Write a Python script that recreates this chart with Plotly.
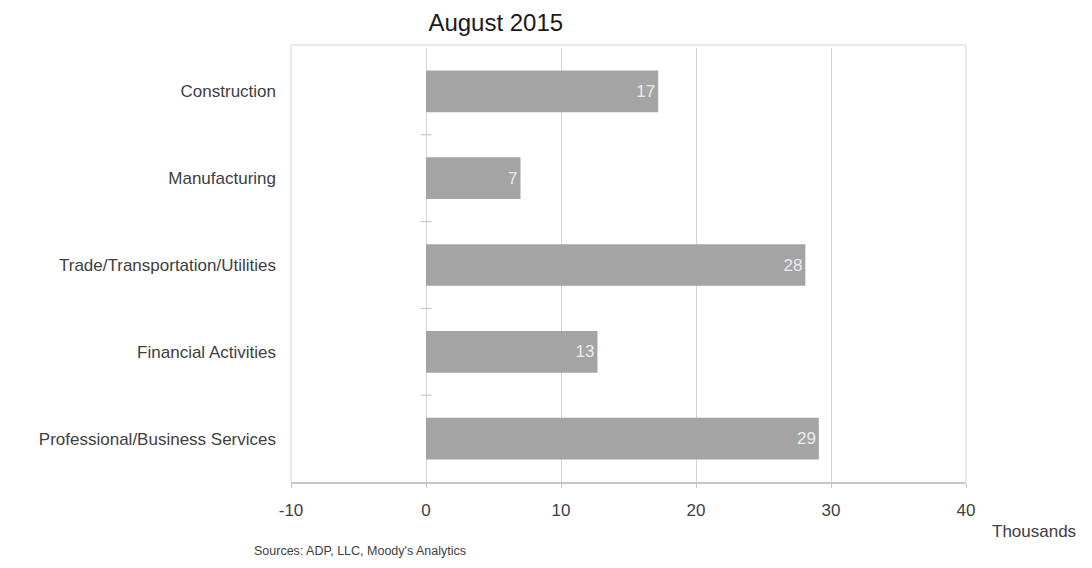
import plotly.graph_objects as go

categories = ["Construction", "Manufacturing", "Trade/Transportation/Utilities",
              "Financial Activities", "Professional/Business Services"]
values = [17.2, 7.0, 28.1, 12.7, 29.1]
labels = ["17", "7", "28", "13", "29"]
x_ticks = [-10, 0, 10, 20, 30, 40]
x_tick_text = ["-10", "0", "10", "20", "30", "40"]

font_family = "Liberation Sans, Arial, sans-serif"

fig = go.Figure()
fig.add_trace(go.Bar(
    y=categories, x=values, orientation="h",
    marker=dict(color="#a4a4a4", line=dict(width=0)),
    width=0.48,
    text=labels, textposition="inside", insidetextanchor="end",
    textfont=dict(color="#ececec", size=17, family=font_family),
    cliponaxis=False,
))

# small separator ticks at the zero line between categories
shapes = []
for i in range(len(categories) - 1):
    shapes.append(dict(type="line", xref="x", yref="y",
                       x0=-0.4, x1=0.4, y0=i + 0.5, y1=i + 0.5,
                       line=dict(color="#c0c0c0", width=1)))

fig.update_layout(
    width=1092, height=568,
    margin=dict(l=291, r=126, t=48, b=86),
    paper_bgcolor="white", plot_bgcolor="white",
    showlegend=False,
    title=dict(text="August 2015", x=0.454, xanchor="center", y=0.96, yanchor="middle",
               font=dict(size=24, color="#1a1a1a", family=font_family)),
    font=dict(family=font_family, color="#404040"),
    xaxis=dict(range=[-10, 40], tickvals=x_ticks, ticktext=x_tick_text,
               showgrid=True, gridcolor="#d4d4d4",
               gridwidth=1, zeroline=False, showline=True, linecolor="#c8c8c8", linewidth=2,
               mirror=False, ticks="outside", ticklen=4, tickcolor="#c8c8c8",
               ticklabelstandoff=8,
               tickfont=dict(size=17, color="#404040"), fixedrange=True),
    yaxis=dict(categoryorder="array", categoryarray=categories, autorange="reversed",
               showgrid=False, zeroline=False, showline=False, ticks="",
               ticklabelstandoff=14, tickfont=dict(size=17, color="#404040")),
    shapes=shapes + [
        dict(type="line", xref="paper", yref="paper", x0=0, x1=1, y0=1.007, y1=1.007,
             line=dict(color="#d4d4d4", width=1)),
        dict(type="line", xref="paper", yref="paper", x0=0, x1=0, y0=0, y1=1.007,
             line=dict(color="#d4d4d4", width=1)),
        dict(type="line", xref="paper", yref="paper", x0=1, x1=1, y0=0, y1=1.007,
             line=dict(color="#d4d4d4", width=1)),
    ],
    annotations=[
        dict(text="Thousands", xref="paper", yref="paper", x=1.035, y=-0.113,
             xanchor="left", yanchor="middle", showarrow=False,
             font=dict(size=17, color="#404040")),
        dict(text="Sources: ADP, LLC, Moody's Analytics", xref="paper", yref="paper",
             x=-0.058, y=-0.16, xanchor="left", yanchor="middle", showarrow=False,
             font=dict(size=12.5, color="#404040")),
    ],
)

fig.write_html("out.html")
